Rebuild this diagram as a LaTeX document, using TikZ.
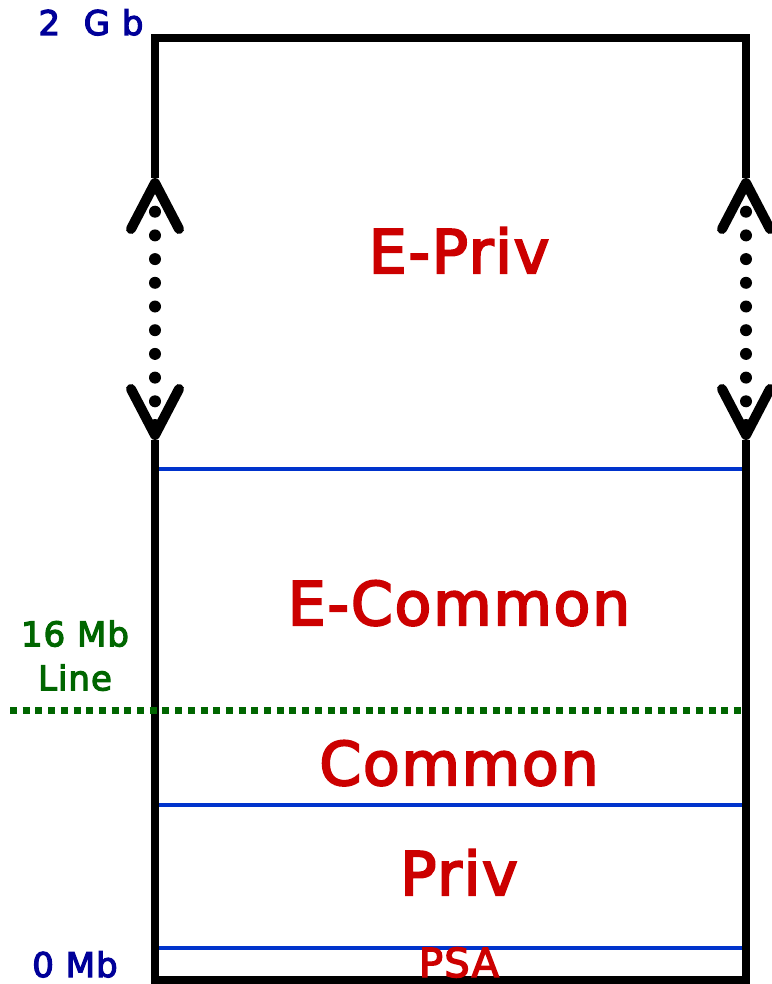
\documentclass[tikz,border=0pt]{standalone}
\usepackage{fontspec}
\setmainfont{DejaVu Sans}
\newfontfamily\lblfont{DejaVu Sans}[FakeBold=3.5, LetterSpace=3]
\usepackage{xcolor}
\usetikzlibrary{arrows.meta}
\definecolor{mRed}{HTML}{CC0000}
\definecolor{mNavy}{HTML}{000099}
\definecolor{mGreen}{HTML}{006600}
\definecolor{mBlue}{HTML}{0033CC}
\tikzset{
  frame/.style={line width=8pt, line join=miter},
  split/.style={draw=mBlue, line width=4.5pt},
  region/.style={text=mRed, font=\lblfont\fontsize{60}{60}\selectfont,
                 anchor=base, inner sep=0pt},
  tinyregion/.style={region, font=\lblfont\fontsize{40}{40}\selectfont},
  addr/.style={text=mNavy, font=\lblfont\fontsize{34}{34}\selectfont,
               anchor=base, inner sep=0pt},
  limit/.style={draw=mGreen, line width=7pt, dash pattern=on 7pt off 5.7pt},
  limitlbl/.style={text=mGreen, font=\lblfont\fontsize{34}{44}\selectfont,
                   align=center, anchor=south, inner sep=0pt},
  % growing boundary: dotted shaft, open barbs at both ends
  growline/.style={line width=12pt, line cap=round,
                   dash pattern=on 0pt off 23.7pt,
                   >={Straight Barb[length=46pt, width=48pt, line width=10pt, round]},
                   <->},
}

\begin{document}
\begin{tikzpicture}[x=1pt, y=-1pt]
\useasboundingbox (0,0) rectangle (771,984);

\def\L{155}   % x of the left side
\def\R{746}   % x of the right side
\def\T{38}    % y of the top
\def\B{980}   % y of the bottom

%% ── ends of the sides ────────────────────────────────────────────────────
\coordinate (ltop) at (\L,178);
\coordinate (lbot) at (\L,440);
\coordinate (rtop) at (\R,178);
\coordinate (rbot) at (\R,440);

%% ── region borders ───────────────────────────────────────────────────────
\foreach \y in {469,805,948}
  \draw[split] (\L,\y) -- (\R,\y);

%% ── the frame ────────────────────────────────────────────────────────────
\draw[frame] (ltop) -- (\L,\T) -- (\R,\T) -- (rtop);
\draw[frame] (lbot) -- (\L,\B) -- (\R,\B) -- (rbot);
\draw[growline] (ltop) -- (lbot);
\draw[growline] (rtop) -- (rbot);

%% ── 16 Mb line ───────────────────────────────────────────────────────────
\draw[limit] (10,710) -- (\R,710);

%% ── regions ──────────────────────────────────────────────────────────────
\node[region] (epriv) at (459,273) {E-Priv};
\node[region] (ecommon) at (459,625) {E-Common};
\node[region] (common) at (459,785) {Common};
\node[region] (priv) at (459,895) {Priv};
\node[tinyregion] (psa) at (459,977) {PSA};

%% ── addresses ────────────────────────────────────────────────────────────
\node[addr] (gb2) at (91,35) {2~~G~b};
\node[limitlbl] (mb16) at (75,691) {16 Mb\\Line};
\node[addr] (mb0) at (75,977) {0 Mb};

\end{tikzpicture}
\end{document}
